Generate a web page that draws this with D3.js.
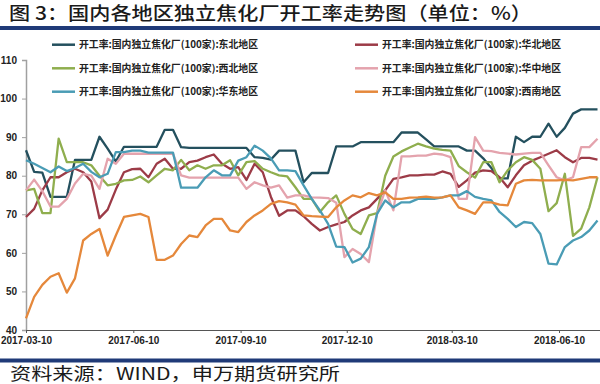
<!DOCTYPE html>
<html><head><meta charset="utf-8">
<script src="https://cdn.jsdelivr.net/npm/d3@7"></script>
<style>
html,body{margin:0;padding:0;background:#fff;}
svg{display:block;}
text{font-family:"Noto Sans CJK SC","Noto Sans",sans-serif;}
</style></head>
<body>
<svg id="chart" width="600" height="384"></svg>
<script>
const titleText = "图 3：国内各地区独立焦化厂开工率走势图（单位：%）";
const sourceText = "资料来源：WIND，申万期货研究所";
const startDate = "2017-03-10";
const tickLabels = ["2017-03-10","2017-06-10","2017-09-10","2017-12-10","2018-03-10","2018-06-10"];
const yTicks = [40,50,60,70,80,90,100,110];

const seriesNames = [
  "开工率:国内独立焦化厂(100家):东北地区",
  "开工率:国内独立焦化厂(100家):华北地区",
  "开工率:国内独立焦化厂(100家):西北地区",
  "开工率:国内独立焦化厂(100家):华中地区",
  "开工率:国内独立焦化厂(100家):华东地区",
  "开工率:国内独立焦化厂(100家):西南地区"
];
const seriesColors = ["#24505e","#9c3b47","#8fae4e","#e4a3ad","#4a9cb5","#e5883b"];

const dongbei = [86.6,81,80.8,74.5,74.5,74.5,84.1,84.1,84.1,90.1,87,83.7,87.5,87.5,87.5,87.5,87.5,91.9,91.9,87.4,
  87.2,87.2,87.2,87.2,87.2,87.2,87.2,87.2,84.8,84.6,84.2,86.5,86.5,86.5,78.3,80.7,80.7,80.7,87.6,87.6,
  87.6,88.7,88.7,88.7,88.7,88.7,91.2,91.2,91.2,89.4,87.6,87.6,87.6,87.6,86.5,86.5,84.5,82,79.3,79.3,
  90.1,88.7,90.1,90.1,93.5,90.1,92.4,96.1,97.2,97.2,97.2];
const huabei = [69.3,71.4,76.2,79.6,79.6,80.9,81.8,80.9,78.5,69,71.2,76.4,80.9,81.7,81.8,79.6,83.1,84.4,81.8,81.8,
  83.5,83.9,84.8,85.5,83.1,81.8,82.2,78.9,83.1,80.9,74.5,69.6,71,71,69.5,67.5,65.8,66.7,67.4,68,
  69.7,71,71.8,74,76.2,79.2,79.6,80.1,80.1,80.3,80.3,81.1,80.5,77.1,78.8,80.8,81.4,81.2,79.6,77,
  80.1,82.7,83.9,84.8,85.7,86.6,84.8,83.5,84.6,84.6,84.2];
const xibei = [76.2,76.6,70.3,70.3,89.6,83.5,83.5,83.5,82.7,80,77.5,77.9,78.8,78.9,79.8,78.3,80.1,81.8,81.4,84.1,
  81.4,82.7,81.8,82.7,82.7,84,80.1,83.5,83.8,81.8,80.9,80.1,79.8,77,74,74,70.6,73.1,74.9,70.1,
  66.2,64.9,69.7,70.3,80,85,86.3,87.3,88.3,87.6,87,86.7,86.5,82.5,80.9,79.5,83.5,83.5,78.3,81.4,
  83.5,84.8,84.1,81.8,70.8,72.9,80.5,64.4,66.3,71.8,79.6];
const huazhong = [76.2,79,76,72,72,74,78,80.5,80,76.6,84.4,83.1,85.7,85.7,85.7,85.7,85.7,85.7,85.7,80.1,
  79.5,79.5,79.5,79.5,79.5,79.5,79.5,76.6,78.3,77.5,76.9,77.5,74.3,74.9,74.9,74.4,74.3,74.2,73,58.9,
  61,59.7,57.6,70.1,76.2,71,85,85,85.2,85.2,85.7,85.5,84.8,74,74,90,86.5,86.4,85.9,85.7,
  85.5,85.7,85.9,85.9,82.7,79.6,78.8,79.6,87.4,87.4,89.6];
const huadong = [84,83.1,82,80.9,82.4,81.2,82,83.1,81,79.6,80.5,86.1,86.1,86.5,86.5,86,86,86,86,76.9,
  76.9,76.9,79.6,81.4,80.1,80.1,83.9,84.8,87.8,86.5,84.5,81.4,81.4,81.2,77.5,74,71,67.5,61.6,61.5,
  57.5,58.5,61.5,70.1,73.6,71.8,73.1,73.1,74,74,74,74.4,74.9,74.9,76,74.5,74,73.6,70.6,68.8,
  66.7,68,67.7,64.9,57.2,57,61.5,63.2,64.1,65.8,68.4];
const xinan = [43,48.6,51.7,53.8,54.7,49.7,53.4,63.2,64.9,66.2,59.3,64.5,69.3,69.7,70.1,69.3,58.2,58.2,59.3,62.3,
  64.5,64.1,67.1,68.8,68.8,65.8,65.4,68,69.7,71,72.7,73.4,73.1,72.5,69.7,69.5,69.4,69.3,71.8,73.6,
  74.9,74.4,75.5,74.9,75.7,74,74,74.3,74.4,74.6,74.3,74.4,74.9,71.8,71,70.1,73.1,73.1,72.5,72.3,
  77.9,78.8,78.9,78.8,78.8,78.8,78.9,78.8,79.2,79.6,79.6];

const seriesValues = [dongbei, huabei, xibei, huazhong, huadong, xinan];

const parse = d3.timeParse("%Y-%m-%d");
const fmt = d3.timeFormat("%Y-%m-%d");
const t0 = parse(startDate);
const dates = dongbei.map((_, i) => d3.timeDay.offset(t0, 7 * i));

const svg = d3.select("#chart");

// title
svg.append("text").attr("x", 9).attr("y", 20)
  .attr("font-size", 18.5).attr("font-weight", 500).attr("fill", "#1a1a1a")
  .attr("textLength", 523).attr("lengthAdjust", "spacingAndGlyphs")
  .text(titleText);
svg.append("rect").attr("x", 0).attr("y", 26).attr("width", 600).attr("height", 4).attr("fill", "#1f3a78");

// scales
const x = d3.scaleTime().domain([t0, dates[dates.length - 1]]).range([26, 597.5]);
const y = d3.scaleLinear().domain([40, 110]).range([330, 60]);

// y axis
const yAxis = svg.append("g").attr("transform", "translate(26,0)")
  .call(d3.axisLeft(y).tickValues(yTicks).tickSize(4).tickPadding(5));
yAxis.select(".domain").attr("stroke", "#a0a0a0").attr("stroke-width", 1.5);
yAxis.selectAll(".tick line").attr("stroke", "#a0a0a0");
yAxis.selectAll(".tick text").attr("font-size", 10).attr("font-weight", "bold").attr("fill", "#222")
  .style("font-family", "'Liberation Sans', Arial, sans-serif");

// x axis
const xAxis = svg.append("g").attr("transform", "translate(0,330)")
  .call(d3.axisBottom(x).tickValues(tickLabels.map(parse)).tickFormat(fmt).tickSize(3).tickPadding(4));
xAxis.select(".domain").attr("stroke", "#555").attr("stroke-width", 1).attr("d", "M26,0.5H600");
xAxis.selectAll(".tick line").attr("stroke", "#555");
xAxis.selectAll(".tick text").attr("font-size", 10).attr("font-weight", "bold").attr("fill", "#222")
  .style("font-family", "'Liberation Sans', Arial, sans-serif");

// lines
const line = d3.line().x((d, i) => x(dates[i])).y(d => y(d));
seriesValues.forEach((vals, k) => {
  svg.append("path").datum(vals)
    .attr("fill", "none").attr("stroke", seriesColors[k]).attr("stroke-width", 2.3)
    .attr("stroke-linejoin", "round").attr("d", line);
});

// legend
const legendPos = [[52, 44.7], [355, 44.7], [52, 68.3], [355, 68.3], [52, 91.7], [355, 91.7]];
seriesNames.forEach((name, k) => {
  const [lx, ly] = legendPos[k];
  svg.append("line").attr("x1", lx).attr("x2", lx + 23).attr("y1", ly).attr("y2", ly)
    .attr("stroke", seriesColors[k]).attr("stroke-width", 2.5);
  svg.append("text").attr("x", lx + 27).attr("y", ly + 3.6)
    .attr("font-size", 10).attr("font-weight", "bold").attr("fill", "#222")
    .attr("textLength", 179).attr("lengthAdjust", "spacingAndGlyphs")
    .text(name);
});

// bottom bar & source
svg.append("rect").attr("x", 0).attr("y", 358.5).attr("width", 600).attr("height", 4).attr("fill", "#1f3a78");
svg.append("text").attr("x", 10).attr("y", 380)
  .attr("font-size", 17).attr("fill", "#1a1a1a")
  .attr("textLength", 330).attr("lengthAdjust", "spacingAndGlyphs")
  .text(sourceText);
</script>
</body></html>
